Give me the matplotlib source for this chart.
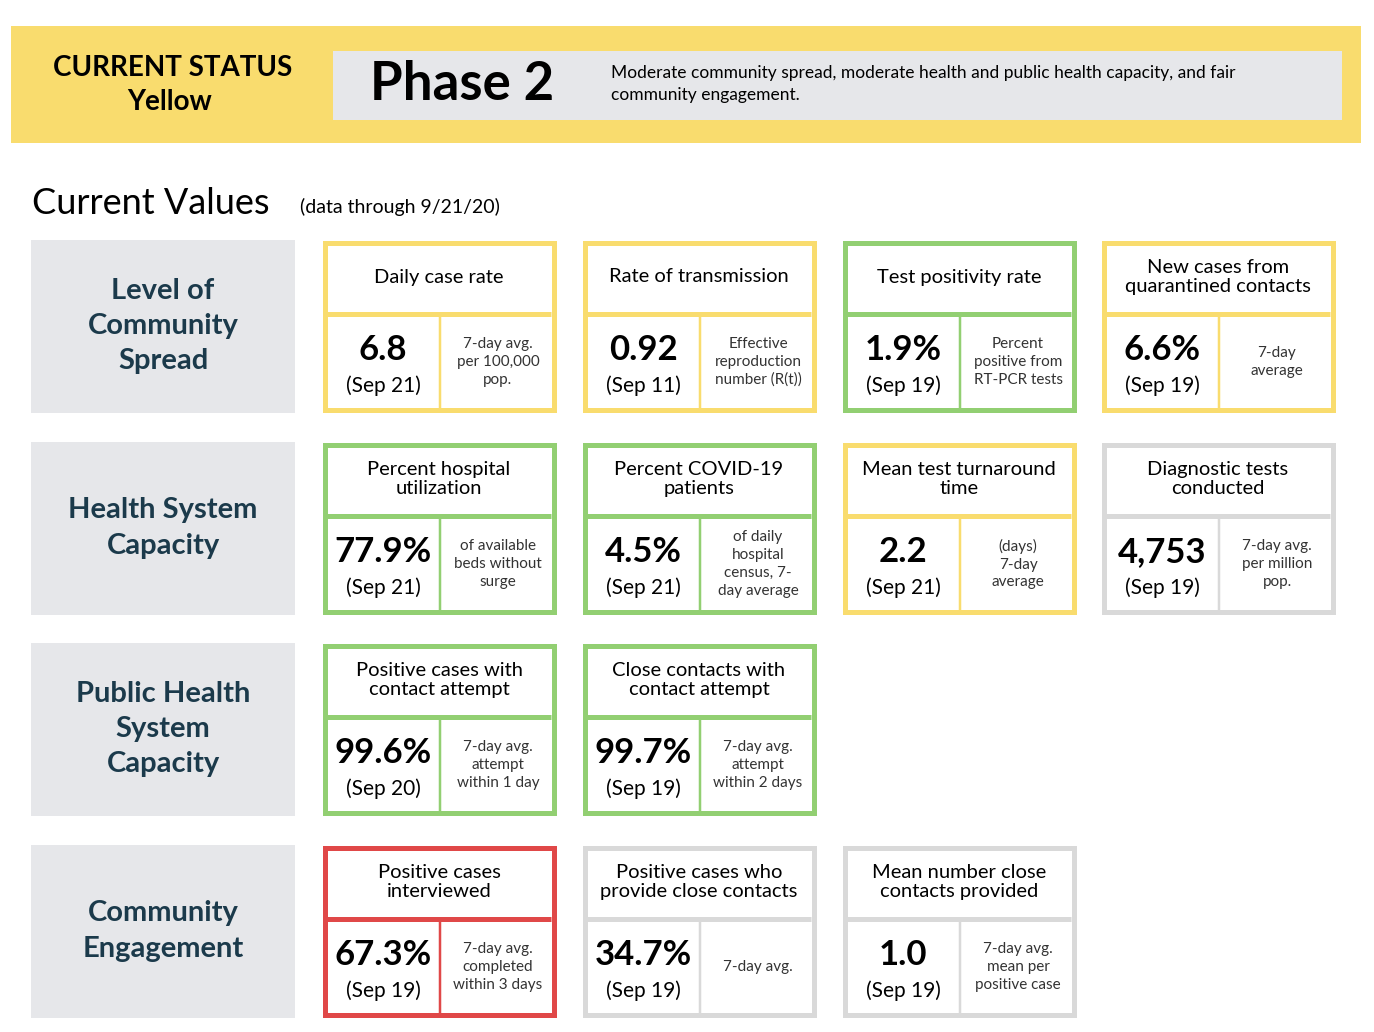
import matplotlib.pyplot as plt
from matplotlib.patches import Rectangle

plt.rcParams['font.family'] = ['Lato', 'DejaVu Sans']

YELLOW = '#F9DC6E'
GREEN = '#92CF72'
GREY = '#D9D9D9'
RED = '#E04848'
LABEL_BG = '#E6E7EA'
TEAL = '#1B3A4B'

row_labels = ['Level of\nCommunity\nSpread', 'Health System\nCapacity',
              'Public Health\nSystem\nCapacity', 'Community\nEngagement']

titles = [
    ['Daily case rate', 'Rate of transmission', 'Test positivity rate', 'New cases from\nquarantined contacts'],
    ['Percent hospital\nutilization', 'Percent COVID-19\npatients', 'Mean test turnaround\ntime', 'Diagnostic tests\nconducted'],
    ['Positive cases with\ncontact attempt', 'Close contacts with\ncontact attempt'],
    ['Positive cases\ninterviewed', 'Positive cases who\nprovide close contacts', 'Mean number close\ncontacts provided'],
]
values = [
    ['6.8', '0.92', '1.9%', '6.6%'],
    ['77.9%', '4.5%', '2.2', '4,753'],
    ['99.6%', '99.7%'],
    ['67.3%', '34.7%', '1.0'],
]
dates = [
    ['(Sep 21)', '(Sep 11)', '(Sep 19)', '(Sep 19)'],
    ['(Sep 21)', '(Sep 21)', '(Sep 21)', '(Sep 19)'],
    ['(Sep 20)', '(Sep 19)'],
    ['(Sep 19)', '(Sep 19)', '(Sep 19)'],
]
notes = [
    ['7-day avg.\nper 100,000\npop.', 'Effective\nreproduction\nnumber (R(t))', 'Percent\npositive from\nRT-PCR tests', '7-day\naverage'],
    ['of available\nbeds without\nsurge', 'of daily\nhospital\ncensus, 7-\nday average', '(days)\n7-day\naverage', '7-day avg.\nper million\npop.'],
    ['7-day avg.\nattempt\nwithin 1 day', '7-day avg.\nattempt\nwithin 2 days'],
    ['7-day avg.\ncompleted\nwithin 3 days', '7-day avg.', '7-day avg.\nmean per\npositive case'],
]
colors = [
    [YELLOW, YELLOW, GREEN, YELLOW],
    [GREEN, GREEN, YELLOW, GREY],
    [GREEN, GREEN],
    [RED, GREY, GREY],
]

W, H = 1374, 1032
fig = plt.figure(figsize=(W / 100, H / 100), dpi=100)
ax = fig.add_axes([0, 0, 1, 1])
ax.set_xlim(0, W)
ax.set_ylim(H, 0)
ax.axis('off')

# banner
ax.add_patch(Rectangle((11, 26), 1350, 117, color=YELLOW, lw=0))
ax.add_patch(Rectangle((333, 51), 1009, 69, color=LABEL_BG, lw=0))
ax.text(173, 68, 'CURRENT STATUS', ha='center', va='center', fontsize=20, weight='bold', color='black')
ax.text(170, 102, 'Yellow', ha='center', va='center', fontsize=20, weight='bold', color='black')
ax.text(370, 84, 'Phase 2', ha='left', va='center', fontsize=38, weight='bold', color='black')
ax.text(611, 84, 'Moderate community spread, moderate health and public health capacity, and fair\ncommunity engagement.',
        ha='left', va='center', fontsize=12.5, color='black', linespacing=1.4)

ax.text(32, 203, 'Current Values', ha='left', va='center', fontsize=26, color='black')
ax.text(300, 207, '(data through 9/21/20)', ha='left', va='center', fontsize=14, color='black')

row_y = [240, 442, 643, 845]
col_x = [322, 582, 842, 1101]
cw, ch = 234, 172
for r, label in enumerate(row_labels):
    y0 = row_y[r]
    ax.add_patch(Rectangle((31, y0), 264, 173, color=LABEL_BG, lw=0))
    ax.text(163, y0 + 86, label, ha='center', va='center', fontsize=21, weight='bold',
            color=TEAL, linespacing=1.45)
    for c in range(len(titles[r])):
        x0 = col_x[c]
        col = colors[r][c]
        ax.add_patch(Rectangle((x0 + 2.5, y0 + 2.5), cw - 5, ch - 5, fc='white', ec=col, lw=5 * 0.72))
        ax.plot([x0 + 5, x0 + cw - 5], [y0 + 74, y0 + 74], color=col, lw=5 * 0.72, solid_capstyle='butt')
        ax.plot([x0 + 118, x0 + 118], [y0 + 74, y0 + ch - 5], color=col, lw=2.5 * 0.72)
        ax.text(x0 + cw / 2, y0 + 37, titles[r][c], ha='center', va='center', fontsize=14.5,
                color='black', linespacing=1.2)
        ax.text(x0 + 61, y0 + 110, values[r][c], ha='center', va='center', fontsize=25,
                weight='bold', color='black')
        ax.text(x0 + 61, y0 + 146, dates[r][c], ha='center', va='center', fontsize=15, color='black')
        ax.text(x0 + 176, y0 + 122, notes[r][c], ha='center', va='center', fontsize=11,
                color='#333333', linespacing=1.35)

fig.savefig('out.png', dpi=100)
